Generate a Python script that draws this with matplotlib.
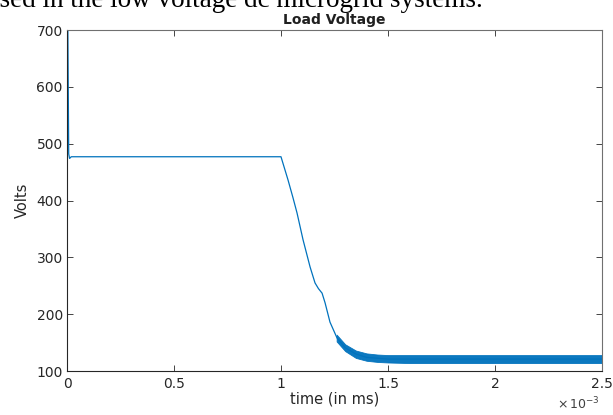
import matplotlib.pyplot as plt
from matplotlib.ticker import FuncFormatter

# load voltage trace (time in seconds, volts)
time_s = [0.0, 0.002e-3, 0.004e-3, 0.008e-3, 0.012e-3, 0.02e-3, 1.0e-3, 1.033e-3,
          1.056e-3, 1.075e-3, 1.103e-3, 1.136e-3, 1.159e-3, 1.175e-3, 1.192e-3,
          1.206e-3, 1.229e-3, 1.262e-3, 1.30e-3, 1.35e-3, 1.40e-3, 1.50e-3,
          2.0e-3, 2.5e-3]
volts = [0, 820, 700, 482, 474, 477, 477, 436, 405, 378, 331, 283, 255, 245, 237,
         220, 186, 158, 141, 130, 124, 121, 121, 121]

# switching ripple envelope once the voltage has dropped
ripple_t = [1.26e-3, 1.30e-3, 1.35e-3, 1.40e-3, 1.45e-3, 1.50e-3, 1.60e-3,
            1.80e-3, 2.00e-3, 2.20e-3, 2.50e-3]
ripple_lo = [152, 135, 123, 118, 116, 115, 114, 114, 114, 114, 114]
ripple_hi = [164, 147, 136, 131, 129, 128, 128, 128, 128, 128, 128]

x_ticks = [0, 0.5e-3, 1.0e-3, 1.5e-3, 2.0e-3, 2.5e-3]
y_ticks = [100, 200, 300, 400, 500, 600, 700]

plt.rcParams['font.family'] = ['DejaVu Sans']
blue = '#0072BD'
ink = '#262626'

fig = plt.figure(figsize=(6.13, 4.15), dpi=100)
ax = fig.add_axes([0.1093, 0.106, 0.8727, 0.8217])

ax.plot(time_s, volts, color=blue, lw=0.9)
ax.fill_between(ripple_t, ripple_lo, ripple_hi, color=blue, lw=0.6, alpha=0.95)

ax.set_xlim(0, 2.5e-3)
ax.set_ylim(100, 700)
ax.set_xticks(x_ticks)
ax.set_yticks(y_ticks)
ax.xaxis.set_major_formatter(FuncFormatter(lambda v, _: f'{v * 1e3:g}'))
ax.tick_params(direction='in', length=4, width=0.6, labelsize=10,
               colors=ink, top=True, right=True, pad=3)
ax.tick_params(axis='x', pad=4)
for side in ['left', 'bottom']:
    ax.spines[side].set_color(ink)
for side in ['top', 'right']:
    ax.spines[side].set_color('#707070')
for sp in ax.spines.values():
    sp.set_linewidth(0.8)

ax.set_title('Load Voltage', fontsize=10, fontweight='bold', color='#202020', pad=4)
ax.set_xlabel('time (in ms)', fontsize=10.5, color=ink, labelpad=1)
ax.set_ylabel('Volts', fontsize=10.5, color=ink, labelpad=5)
fig.text(0.908, 0.014, r'$\times\,10^{-3}$', fontsize=9, color='#404040')

# caption line from the surrounding page, clipped by the top edge
fig.text(-13.5 / 613, 1 - 7 / 415, 'used in the low voltage dc microgrid systems.',
         ha='left', va='baseline', fontsize=19.5, family='Liberation Serif')

fig.savefig('out.png', dpi=100)
